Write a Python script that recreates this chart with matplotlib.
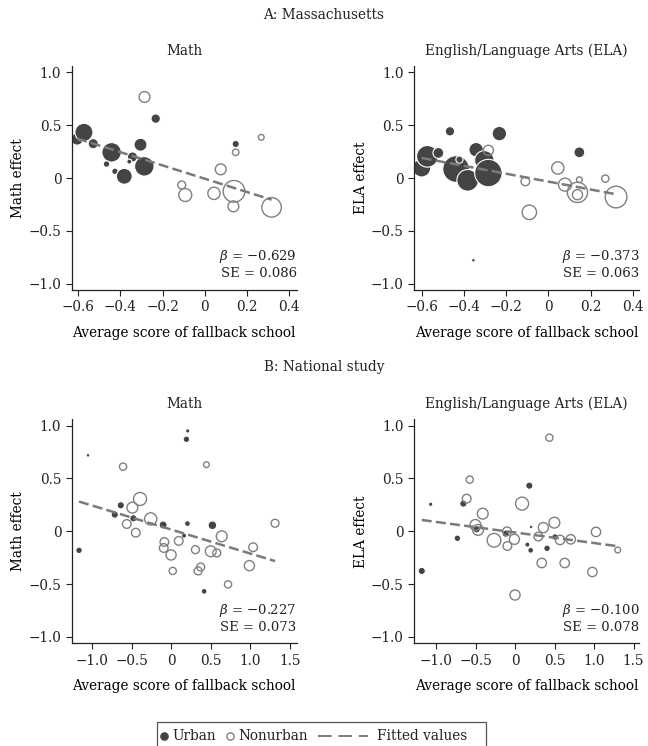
"""
Fallback-school scatter panels (Massachusetts and national study).
"""

import matplotlib
matplotlib.use("Agg")
import matplotlib.pyplot as plt
from matplotlib.patches import Rectangle
import numpy as np

# A: Massachusetts, Math
ma_math_x = [-0.605, -0.573, -0.529, -0.442, -0.466, -0.426, -0.382, -0.343, -0.358, -0.305, -0.287, -0.233, 0.146,
             -0.286, -0.110, -0.093, 0.043, 0.075, 0.146, 0.138, 0.135, 0.267, 0.316]
ma_math_y = [0.369, 0.432, 0.325, 0.243, 0.132, 0.063, 0.016, 0.199, 0.155, 0.315, 0.110, 0.562, 0.322,
             0.767, -0.066, -0.161, -0.145, 0.082, 0.243, -0.126, -0.268, 0.385, -0.278]
ma_math_w = [17, 25, 14, 27, 9, 9, 22, 14, 7, 18, 27, 13, 10,
             15, 11, 18, 17, 15, 9, 30, 15, 8, 27]
ma_math_urban = [1] * 13 + [0] * 10

# A: Massachusetts, ELA
ma_ela_x = [-0.600, -0.573, -0.521, -0.466, -0.437, -0.421, -0.382, -0.342, -0.303, -0.284, -0.232, -0.355, 0.147,
            -0.284, -0.109, -0.090, 0.045, 0.079, 0.147, 0.138, 0.138, 0.270, 0.321]
ma_ela_y = [0.095, 0.205, 0.237, 0.442, 0.085, 0.174, -0.022, 0.268, 0.167, 0.047, 0.420, -0.779, 0.243,
            0.262, -0.032, -0.325, 0.095, -0.063, -0.016, -0.136, -0.158, -0.006, -0.180]
ma_ela_w = [25, 30, 15, 13, 37, 10, 30, 20, 27, 38, 20, 5, 15,
            14, 12, 20, 17, 18, 8, 28, 14, 10, 30]
ma_ela_urban = [1] * 13 + [0] * 10

# B: National study, Math
ns_math_x = [-1.055, -1.169, -0.717, -0.641, -0.481, -0.105, 0.190, 0.207, 0.203, 0.160, 0.519, 0.414,
             -0.612, -0.397, -0.494, -0.565, -0.451, -0.262, -0.089, -0.097, -0.004, 0.093, 0.017, 0.304,
             0.371, 0.338, 0.443, 0.498, 0.574, 0.637, 0.717, 0.987, 1.034, 1.312]
ns_math_y = [0.719, -0.180, 0.158, 0.246, 0.123, 0.060, 0.871, 0.950, 0.073, -0.041, 0.057, -0.568,
             0.612, 0.306, 0.224, 0.069, -0.013, 0.117, -0.101, -0.158, -0.224, -0.091, -0.375, -0.174,
             -0.338, -0.375, 0.631, -0.189, -0.205, -0.047, -0.502, -0.325, -0.151, 0.076]
ns_math_w = [5, 9, 10, 10, 10, 11, 9, 6, 8, 7, 12, 8,
             10, 18, 15, 12, 12, 17, 12, 12, 14, 12, 10, 11,
             11, 11, 8, 15, 11, 15, 10, 14, 12, 11]
ns_math_urban = [1] * 12 + [0] * 22

# B: National study, ELA
ns_ela_x = [-1.068, -1.181, -0.730, -0.654, -0.485, -0.118, 0.181, 0.203, 0.156, 0.198, 0.405, 0.506,
            -0.612, -0.574, -0.409, -0.502, -0.468, -0.266, -0.101, -0.097, -0.008, 0.000, 0.089, 0.295,
            0.359, 0.338, 0.435, 0.498, 0.570, 0.629, 0.705, 0.979, 1.025, 1.300]
ns_ela_y = [0.256, -0.375, -0.066, 0.262, 0.019, -0.022, 0.432, 0.041, -0.126, -0.180, -0.161, -0.054,
            0.309, 0.489, 0.167, 0.060, 0.013, -0.085, 0.000, -0.139, -0.076, -0.603, 0.262, -0.050,
            0.035, -0.300, 0.886, 0.082, -0.082, -0.300, -0.076, -0.385, -0.006, -0.177]
ns_ela_w = [6, 10, 9, 10, 10, 10, 10, 5, 7, 8, 9, 9,
            12, 10, 15, 15, 15, 19, 12, 12, 14, 14, 18, 12,
            14, 13, 10, 15, 13, 13, 13, 13, 13, 8]
ns_ela_urban = [1] * 12 + [0] * 22

# fitted values: slope, intercept, standard error
fits = {
    "ma_math": (-0.629, -0.007, 0.086),
    "ma_ela": (-0.373, -0.034, 0.063),
    "ns_math": (-0.227, 0.016, 0.073),
    "ns_ela": (-0.100, -0.011, 0.078),
}

ma_xticks = [-0.6, -0.4, -0.2, 0, 0.2, 0.4]
ns_xticks = [-1.0, -0.5, 0, 0.5, 1.0, 1.5]
yticks = [-1.0, -0.5, 0, 0.5, 1.0]

URBAN = "#444444"
NONURBAN = "#808080"
LINE = "#7a7a7a"
TXT = "#222222"
FS = 9.8

plt.rcParams["font.family"] = "DejaVu Serif"
plt.rcParams["mathtext.fontset"] = "dejavuserif"
plt.rcParams["font.size"] = FS
plt.rcParams["text.color"] = TXT

W, H = 648, 746
fig = plt.figure(figsize=(W / 100, H / 100), dpi=100)


def fmt(v):
    if abs(v) < 1e-9:
        return "0"
    return f"{v:.1f}".replace("-", "\u2212")


def panel(left, top, x, y, w, urban, key, xticks, xlim, title, ylabel):
    ax = fig.add_axes([left / W, 1 - (top + 224) / H, 225 / W, 224 / H])
    x = np.array(x)
    y = np.array(y)
    s = 0.27 * np.array(w, dtype=float) ** 2
    u = np.array(urban) == 1
    ax.scatter(x[u], y[u], s=s[u], facecolor=URBAN, edgecolor="white", linewidth=0.8, zorder=2)
    ax.scatter(x[~u], y[~u], s=s[~u], facecolor="none", edgecolor=NONURBAN, linewidth=1.0, zorder=3)
    beta, icpt, se = fits[key]
    xs = np.array([x.min(), x.max()])
    ax.plot(xs, icpt + beta * xs, color=LINE, linewidth=1.8, linestyle=(0, (4, 1.7)), zorder=4)

    ax.set_xlim(*xlim)
    ax.set_ylim(-1.06, 1.06)
    ax.set_xticks(xticks)
    ax.set_xticklabels([fmt(t) for t in xticks])
    ax.set_yticks(yticks)
    ax.set_yticklabels([fmt(t) for t in yticks])
    for side in ("top", "right"):
        ax.spines[side].set_visible(False)
    for side in ("left", "bottom"):
        ax.spines[side].set_linewidth(0.9)
        ax.spines[side].set_color("#222222")
    ax.tick_params(direction="out", length=4, width=0.8, color="#222222", pad=3.5, labelcolor=TXT)
    ax.patch.set_alpha(0)

    ax.set_title(title, pad=8, fontsize=FS)
    ax.set_ylabel(ylabel)
    ax.yaxis.set_label_coords(-53.7 / 225, 0.5)
    ax.set_xlabel("Average score of fallback school")
    ax.xaxis.set_label_coords(0.5, -43 / 224)
    ax.xaxis.label.set_va("center")
    ax.yaxis.label.set_va("center")

    ax.text(1.0, 0.148, r"$\beta$ = " + f"{beta:.3f}".replace("-", "\u2212"),
            transform=ax.transAxes, ha="right", va="center", fontsize=9.5)
    ax.text(1.0, 0.072, f"SE = {se:.3f}", transform=ax.transAxes, ha="right", va="center",
            fontsize=9.5)
    return ax


panel(71.7, 66, ma_math_x, ma_math_y, ma_math_w, ma_math_urban, "ma_math", ma_xticks,
      (-0.631, 0.435), "Math", "Math effect")
panel(414.3, 66, ma_ela_x, ma_ela_y, ma_ela_w, ma_ela_urban, "ma_ela", ma_xticks,
      (-0.635, 0.431), "English/Language Arts (ELA)", "ELA effect")
panel(71.7, 419.3, ns_math_x, ns_math_y, ns_math_w, ns_math_urban, "ns_math", ns_xticks,
      (-1.262, 1.586), "Math", "Math effect")
panel(414.3, 419.3, ns_ela_x, ns_ela_y, ns_ela_w, ns_ela_urban, "ns_ela", ns_xticks,
      (-1.275, 1.573), "English/Language Arts (ELA)", "ELA effect")

fig.text(0.5, 1 - 15 / H, "A: Massachusetts", ha="center", va="center")
fig.text(0.5, 1 - 367 / H, "B: National study", ha="center", va="center")

# legend, drawn by hand in pixel coordinates (box runs off the bottom edge)
lax = fig.add_axes([0, 0, 1, 1])
lax.set_xlim(0, W)
lax.set_ylim(H, 0)
lax.axis("off")
lax.add_patch(Rectangle((156.5, 722), 329, 40, facecolor="white", edgecolor="#555555", linewidth=0.9))
ly = 735.5
lax.plot([164], [ly], marker="o", markersize=5.2, color=URBAN, linestyle="none")
lax.text(172, ly, "Urban", ha="left", va="center")
lax.plot([230], [ly], marker="o", markersize=5.2, markerfacecolor="none",
         markeredgecolor=NONURBAN, markeredgewidth=1.0, linestyle="none")
lax.text(238, ly, "Nonurban", ha="left", va="center")
lax.plot([318, 368], [ly, ly], color=LINE, linewidth=1.4, linestyle=(0, (7, 3.5)))
lax.text(377, ly, "Fitted values", ha="left", va="center")

fig.savefig("out.png", dpi=100)
